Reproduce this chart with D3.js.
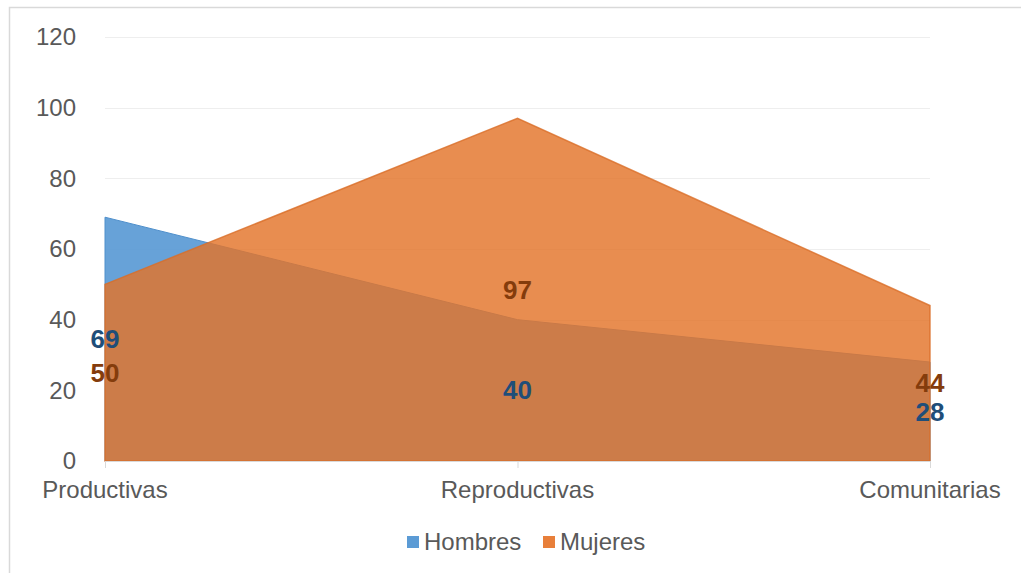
<!DOCTYPE html>
<html>
<head>
<meta charset="utf-8">
<script src="https://cdn.jsdelivr.net/npm/d3@7"></script>
<style>
  html, body { margin: 0; padding: 0; background: #fff; }
  svg { display: block; font-family: "Liberation Sans", Arial, sans-serif; }
</style>
</head>
<body>
<svg id="chart" width="1021" height="573"></svg>
<script>
const categories = ["Productivas", "Reproductivas", "Comunitarias"];
const hombres = [69, 40, 28];
const mujeres = [50, 97, 44];
const seriesNames = ["Hombres", "Mujeres"];
const yTicks = [0, 20, 40, 60, 80, 100, 120];

const svg = d3.select("#chart");

// frame
svg.append("rect").attr("x", 9.5).attr("y", 7.5).attr("width", 1030).attr("height", 600)
  .attr("fill", "none").attr("stroke", "#d9d9d9").attr("stroke-width", 1.5);

const x = d3.scalePoint().domain(categories).range([105, 930]);
const y = d3.scaleLinear().domain([0, 120]).range([461, 37]);

// gridlines
svg.append("g").selectAll("line").data(yTicks.filter(t => t > 0)).join("line")
  .attr("x1", 105).attr("x2", 930)
  .attr("y1", d => Math.round(y(d)) + 0.5).attr("y2", d => Math.round(y(d)) + 0.5)
  .attr("stroke", "#eeeeee").attr("stroke-width", 1.2);

// y labels
svg.append("g").selectAll("text").data(yTicks).join("text")
  .attr("x", 76).attr("y", d => y(d)).attr("dy", "0.35em")
  .attr("text-anchor", "end").attr("font-size", 24).attr("fill", "#595959")
  .text(d => d);

const area = d3.area()
  .x((d, i) => x(categories[i]))
  .y0(y(0)).y1(d => y(d));

svg.append("path").datum(hombres).attr("d", area)
  .attr("fill", "#5b9bd5").attr("fill-opacity", 0.93)
  .attr("stroke", "#4f8fcb").attr("stroke-width", 1);
svg.append("path").datum(mujeres).attr("d", area)
  .attr("fill", "#e3742a").attr("fill-opacity", 0.82)
  .attr("stroke", "#d96e28").attr("stroke-opacity", 0.8).attr("stroke-width", 1.5);

// x axis
svg.append("line").attr("x1", 105).attr("x2", 930).attr("y1", 461.5).attr("y2", 461.5)
  .attr("stroke", "#d9d9d9").attr("stroke-width", 1);
svg.append("g").selectAll("line").data(categories).join("line")
  .attr("x1", d => x(d) + 0.5).attr("x2", d => x(d) + 0.5)
  .attr("y1", 461).attr("y2", 468).attr("stroke", "#d9d9d9");
svg.append("g").selectAll("text").data(categories).join("text")
  .attr("x", d => x(d)).attr("y", 490).attr("dy", "0.35em")
  .attr("text-anchor", "middle").attr("font-size", 24).attr("fill", "#595959")
  .text(d => d);

// data labels
function labels(data, color) {
  svg.append("g").selectAll("text").data(data).join("text")
    .attr("x", (d, i) => x(categories[i])).attr("y", d => y(d / 2)).attr("dy", "0.35em")
    .attr("text-anchor", "middle").attr("font-size", 26).attr("font-weight", "bold")
    .attr("fill", color).text(d => d);
}
labels(hombres, "#1f4e79");
labels(mujeres, "#843c0c");

// legend
const legendColors = ["#5b9bd5", "#e87f3a"];
const lx = [407, 543];
const lg = svg.append("g");
seriesNames.forEach((n, i) => {
  lg.append("rect").attr("x", lx[i]).attr("y", 536).attr("width", 12).attr("height", 12)
    .attr("fill", legendColors[i]);
  lg.append("text").attr("x", lx[i] + 17).attr("y", 542).attr("dy", "0.35em")
    .attr("font-size", 24).attr("fill", "#595959").text(n);
});
</script>
</body>
</html>
